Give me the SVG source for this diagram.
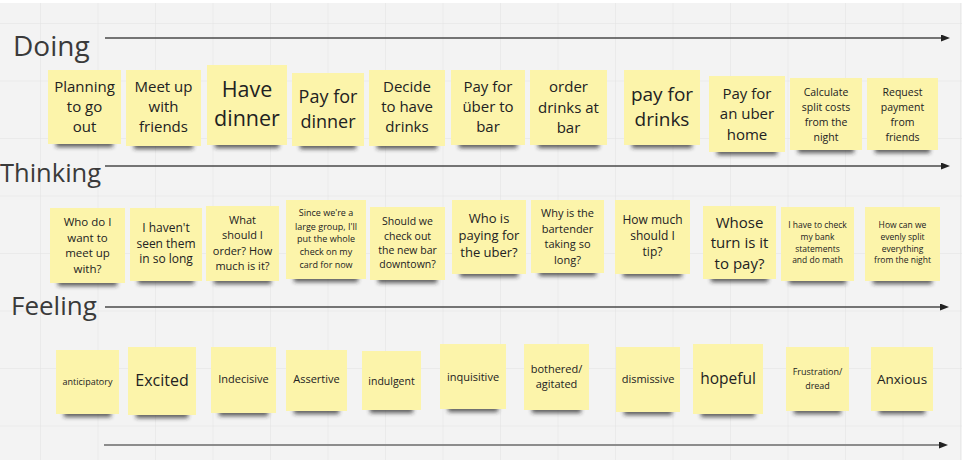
<svg xmlns="http://www.w3.org/2000/svg" width="962" height="460" viewBox="0 0 962 460">
<style>
.n{fill:#fcf4aa}
.sh{fill:#2a2a2a;opacity:.75;filter:url(#blur)}
text{font-family:"Open Sans","Noto Sans","Liberation Sans",sans-serif;fill:#222;text-anchor:middle}
.lbl{fill:#3a3a3a;text-anchor:start}
.ax{stroke:#4a4a4a;stroke-width:1.3;fill:none;marker-end:url(#ah)}
.ax2{stroke:#8c8c8c;stroke-width:2;fill:none;marker-end:url(#ah)}
</style>
<defs>
<pattern id="grid" patternUnits="userSpaceOnUse" x="40" y="23" width="57.5" height="57.5">
<path d="M0,0 V57.5 M0,0 H57.5" stroke="#e2e2e2" stroke-width="1" fill="none"/>
</pattern>
<filter id="blur" x="-20%" y="-100%" width="140%" height="300%"><feGaussianBlur stdDeviation="2"/></filter>
<marker id="ah" markerUnits="userSpaceOnUse" markerWidth="9" markerHeight="7" refX="0" refY="3.5" orient="auto"><path d="M0,0 L9,3.5 L0,7 z" fill="#222"/></marker>
</defs>
<rect width="962" height="460" fill="#f3f3f3"/>
<rect width="962" height="460" fill="url(#grid)"/>
<rect width="962" height="3" fill="#fff"/>

<g id="labels">
<text class="lbl" x="13" y="56" font-size="28">Doing</text>
<text class="lbl" x="0" y="182" font-size="25.5">Thinking</text>
<text class="lbl" x="11" y="315" font-size="26">Feeling</text>
</g>

<g id="connectors">
<line class="ax" x1="105" y1="38" x2="941" y2="38"/>
<line class="ax" x1="105" y1="166" x2="941" y2="166"/>
<line class="ax" x1="105" y1="307" x2="940" y2="307"/>
<line class="ax2" x1="104" y1="445" x2="939" y2="445"/>
</g>

<!-- Doing row -->
<g id="d1"><rect class="sh" x="56" y="140" width="57" height="7"/><rect class="n" x="48" y="70" width="73" height="74"/>
<text font-size="15"><tspan x="84.5" y="92">Planning</tspan><tspan x="84.5" y="112">to go</tspan><tspan x="84.5" y="132">out</tspan></text></g>
<g id="d2"><rect class="sh" x="134" y="142" width="59" height="7"/><rect class="n" x="126" y="70" width="75" height="76"/>
<text font-size="15"><tspan x="163.5" y="92">Meet up</tspan><tspan x="163.5" y="112">with</tspan><tspan x="163.5" y="132">friends</tspan></text></g>
<g id="d3"><rect class="sh" x="215" y="141" width="64" height="7"/><rect class="n" x="207" y="65" width="80" height="80"/>
<text font-size="21.5"><tspan x="247" y="97">Have</tspan><tspan x="247" y="126">dinner</tspan></text></g>
<g id="d4"><rect class="sh" x="300" y="142" width="56" height="7"/><rect class="n" x="292" y="73" width="72" height="73"/>
<text font-size="18"><tspan x="328" y="103">Pay for</tspan><tspan x="328" y="128">dinner</tspan></text></g>
<g id="d5"><rect class="sh" x="377" y="142" width="60" height="7"/><rect class="n" x="369" y="70" width="76" height="76"/>
<text font-size="15"><tspan x="407" y="92">Decide</tspan><tspan x="407" y="112">to have</tspan><tspan x="407" y="132">drinks</tspan></text></g>
<g id="d6"><rect class="sh" x="459" y="141" width="58" height="7"/><rect class="n" x="451" y="70" width="74" height="75"/>
<text font-size="15"><tspan x="488" y="92">Pay for</tspan><tspan x="488" y="112">über to</tspan><tspan x="488" y="132">bar</tspan></text></g>
<g id="d7"><rect class="sh" x="538" y="141" width="61" height="7"/><rect class="n" x="530" y="70" width="77" height="75"/>
<text font-size="15"><tspan x="568.5" y="92">order</tspan><tspan x="568.5" y="113">drinks at</tspan><tspan x="568.5" y="133">bar</tspan></text></g>
<g id="d8"><rect class="sh" x="632" y="141" width="60" height="7"/><rect class="n" x="624" y="70" width="76" height="75"/>
<text font-size="19"><tspan x="662" y="101">pay for</tspan><tspan x="662" y="126">drinks</tspan></text></g>
<g id="d9"><rect class="sh" x="717" y="148" width="60" height="7"/><rect class="n" x="709" y="76" width="76" height="76"/>
<text font-size="15"><tspan x="747" y="99">Pay for</tspan><tspan x="747" y="119">an uber</tspan><tspan x="747" y="140">home</tspan></text></g>
<g id="d10"><rect class="sh" x="798" y="146" width="56" height="7"/><rect class="n" x="790" y="78" width="72" height="72"/>
<text font-size="10.5"><tspan x="826" y="95.5">Calculate</tspan><tspan x="826" y="110.5">split costs</tspan><tspan x="826" y="125.5">from the</tspan><tspan x="826" y="140.5">night</tspan></text></g>
<g id="d11"><rect class="sh" x="875" y="146" width="55" height="7"/><rect class="n" x="867" y="78" width="71" height="72"/>
<text font-size="10.5"><tspan x="902.5" y="95.5">Request</tspan><tspan x="902.5" y="110.5">payment</tspan><tspan x="902.5" y="125.5">from</tspan><tspan x="902.5" y="140.5">friends</tspan></text></g>

<!-- Thinking row -->
<g id="t1"><rect class="sh" x="58" y="279" width="59" height="7"/><rect class="n" x="50" y="208" width="75" height="75"/>
<text font-size="11.5"><tspan x="87.5" y="226">Who do I</tspan><tspan x="87.5" y="241.5">want to</tspan><tspan x="87.5" y="257">meet up</tspan><tspan x="87.5" y="272.5">with?</tspan></text></g>
<g id="t2"><rect class="sh" x="138" y="277" width="56" height="7"/><rect class="n" x="130" y="208" width="72" height="73"/>
<text font-size="12"><tspan x="166" y="232">I haven't</tspan><tspan x="166" y="247.5">seen them</tspan><tspan x="166" y="263">in so long</tspan></text></g>
<g id="t3"><rect class="sh" x="214" y="277" width="57" height="7"/><rect class="n" x="206" y="206" width="73" height="75"/>
<text font-size="11"><tspan x="242.5" y="224">What</tspan><tspan x="242.5" y="239">should I</tspan><tspan x="242.5" y="255">order? How</tspan><tspan x="242.5" y="270">much is it?</tspan></text></g>
<g id="t4"><rect class="sh" x="294" y="275" width="64" height="7"/><rect class="n" x="286" y="200" width="80" height="79"/>
<text font-size="9"><tspan x="326" y="216">Since we're a</tspan><tspan x="326" y="229.5">large group, I'll</tspan><tspan x="326" y="242">put the whole</tspan><tspan x="326" y="255">check on my</tspan><tspan x="326" y="268">card for now</tspan></text></g>
<g id="t5"><rect class="sh" x="378" y="276" width="59" height="7"/><rect class="n" x="370" y="207" width="75" height="73"/>
<text font-size="10.5"><tspan x="407.5" y="225">Should we</tspan><tspan x="407.5" y="239.5">check out</tspan><tspan x="407.5" y="254">the new bar</tspan><tspan x="407.5" y="268">downtown?</tspan></text></g>
<g id="t6"><rect class="sh" x="460" y="270" width="58" height="7"/><rect class="n" x="452" y="200" width="74" height="74"/>
<text font-size="13"><tspan x="489" y="223">Who is</tspan><tspan x="489" y="240">paying for</tspan><tspan x="489" y="257">the uber?</tspan></text></g>
<g id="t7"><rect class="sh" x="539" y="269" width="57" height="7"/><rect class="n" x="531" y="200" width="73" height="73"/>
<text font-size="11"><tspan x="567.5" y="217">Why is the</tspan><tspan x="567.5" y="233">bartender</tspan><tspan x="567.5" y="248">taking so</tspan><tspan x="567.5" y="264">long?</tspan></text></g>
<g id="t8"><rect class="sh" x="623" y="270" width="59" height="7"/><rect class="n" x="615" y="200" width="75" height="74"/>
<text font-size="12"><tspan x="652.5" y="224">How much</tspan><tspan x="652.5" y="240">should I</tspan><tspan x="652.5" y="256">tip?</tspan></text></g>
<g id="t9"><rect class="sh" x="711" y="275" width="57" height="7"/><rect class="n" x="703" y="206" width="73" height="73"/>
<text font-size="15"><tspan x="739.5" y="228">Whose</tspan><tspan x="739.5" y="248">turn is it</tspan><tspan x="739.5" y="269">to pay?</tspan></text></g>
<g id="t10"><rect class="sh" x="789" y="277" width="57" height="7"/><rect class="n" x="781" y="207" width="73" height="74"/>
<text font-size="8.5"><tspan x="817.5" y="228">I have to check</tspan><tspan x="817.5" y="240">my bank</tspan><tspan x="817.5" y="252">statements</tspan><tspan x="817.5" y="263">and do math</tspan></text></g>
<g id="t11"><rect class="sh" x="873" y="277" width="59" height="7"/><rect class="n" x="865" y="207" width="75" height="74"/>
<text font-size="8.5"><tspan x="902.5" y="228">How can we</tspan><tspan x="902.5" y="240">evenly split</tspan><tspan x="902.5" y="252">everything</tspan><tspan x="902.5" y="263">from the night</tspan></text></g>

<!-- Feeling row -->
<g id="f1"><rect class="sh" x="64" y="410" width="47" height="7"/><rect class="n" x="56" y="350" width="63" height="64"/>
<text font-size="9" x="87.5" y="385">anticipatory</text></g>
<g id="f2"><rect class="sh" x="136" y="411" width="52" height="7"/><rect class="n" x="128" y="347" width="68" height="68"/>
<text font-size="16" x="162" y="385.5">Excited</text></g>
<g id="f3"><rect class="sh" x="219" y="409" width="49" height="7"/><rect class="n" x="211" y="347" width="65" height="66"/>
<text font-size="11" x="243.5" y="383">Indecisive</text></g>
<g id="f4"><rect class="sh" x="294" y="407" width="45" height="7"/><rect class="n" x="286" y="350" width="61" height="61"/>
<text font-size="11" x="316.5" y="383">Assertive</text></g>
<g id="f5"><rect class="sh" x="370" y="406" width="43" height="7"/><rect class="n" x="362" y="351" width="59" height="59"/>
<text font-size="10.5" x="391.5" y="385">indulgent</text></g>
<g id="f6"><rect class="sh" x="448" y="405" width="50" height="7"/><rect class="n" x="440" y="344" width="66" height="65"/>
<text font-size="11" x="473" y="381">inquisitive</text></g>
<g id="f7"><rect class="sh" x="532" y="406" width="49" height="7"/><rect class="n" x="524" y="344" width="65" height="66"/>
<text font-size="11"><tspan x="556.5" y="373">bothered/</tspan><tspan x="556.5" y="388">agitated</tspan></text></g>
<g id="f8"><rect class="sh" x="624" y="408" width="48" height="7"/><rect class="n" x="616" y="347" width="64" height="65"/>
<text font-size="11" x="648" y="383">dismissive</text></g>
<g id="f9"><rect class="sh" x="701" y="410" width="54" height="7"/><rect class="n" x="693" y="344" width="70" height="70"/>
<text font-size="15.5" x="728" y="383.5">hopeful</text></g>
<g id="f10"><rect class="sh" x="794" y="407" width="47" height="7"/><rect class="n" x="786" y="347" width="63" height="64"/>
<text font-size="9"><tspan x="817.5" y="375">Frustration/</tspan><tspan x="817.5" y="389">dread</tspan></text></g>
<g id="f11"><rect class="sh" x="879" y="407" width="46" height="7"/><rect class="n" x="871" y="347" width="62" height="64"/>
<text font-size="13.5" x="902" y="384">Anxious</text></g>
</svg>
